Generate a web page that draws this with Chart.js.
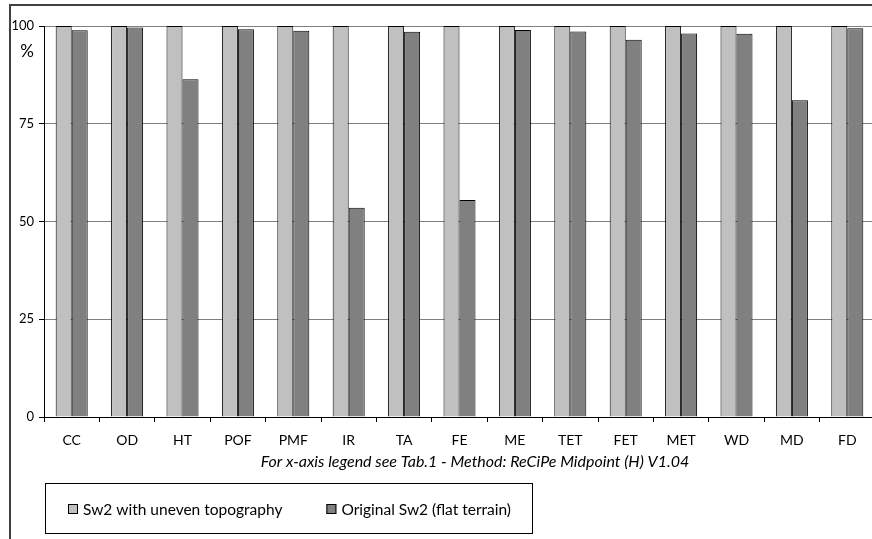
<!DOCTYPE html>
<html>
<head>
<meta charset="utf-8">
<script src="https://cdn.jsdelivr.net/npm/chart.js@4/dist/chart.umd.min.js"></script>
<style>
    html, body { margin: 0; padding: 0; background: #fff; overflow: hidden; width: 872px; height: 539px; }
    #wrap { position: relative; width: 872px; height: 539px; overflow: hidden; }
    #frame {
        position: absolute; left: 9px; top: 4px; width: 900px; height: 600px;
        border-left: 2px solid #404040; border-top: 2px solid #404040;
        pointer-events: none;
    }
    #chart { position: absolute; left: 0; top: 0; }
</style>
</head>
<body>
<div id="wrap">
    <canvas id="chart" width="880" height="539"></canvas>
    <div id="frame"></div>
</div>
<script>
// categories (impact categories, ReCiPe midpoint)
const categories = ["CC", "OD", "HT", "POF", "PMF", "IR", "TA", "FE", "ME", "TET", "FET", "MET", "WD", "MD", "FD"];

// series values in %
const unevenValues = [100, 100, 100, 100, 100, 100, 100, 100, 100, 100, 100, 100, 100, 100, 100];
const flatValues = [98.9, 99.6, 86.4, 99.2, 98.8, 53.5, 98.5, 55.5, 99.0, 98.6, 96.5, 98.1, 98.0, 81.0, 99.4];

const seriesNames = ["Sw2 with uneven topography", "Original Sw2 (flat terrain)"];
const seriesColors = ["#c0c0c0", "#808080"];

// y-axis ticks
const yTicks = [0, 25, 50, 75, 100];

const fontFamily = "Lato, 'Open Sans', sans-serif";
const chartCanvas = document.getElementById("chart");

// draws the "%" unit, the footnote and the boxed legend
const extras = {
    id: "extras",
    afterDraw(chart) {
        const ctx = chart.ctx;
        const area = chart.chartArea;
        const yScale = chart.scales.y;
        ctx.save();

        // "%" under the top tick label
        ctx.fillStyle = "#000";
        ctx.font = "17px " + fontFamily;
        ctx.textAlign = "center";
        ctx.textBaseline = "middle";
        ctx.fillText("%", area.left - 17, yScale.getPixelForValue(100) + 26);

        // footnote
        ctx.font = "italic 16px " + fontFamily;
        ctx.fillText("For x-axis legend see Tab.1 - Method: ReCiPe Midpoint (H) V1.04",
            area.left + 431, area.bottom + 45);

        // legend
        const top = area.bottom + 66;
        const midY = top + 26;
        ctx.font = "15.5px " + fontFamily;
        ctx.textAlign = "left";
        let x = area.left + 24;
        chart.data.datasets.forEach((ds) => {
            ctx.fillStyle = ds.backgroundColor;
            ctx.fillRect(x, midY - 5, 10, 10);
            ctx.strokeStyle = "#000";
            ctx.lineWidth = 1;
            ctx.strokeRect(x + 0.5, midY - 4.5, 9, 9);
            ctx.fillStyle = "#000";
            ctx.fillText(ds.label, x + 15, midY + 1);
            x += 15 + ctx.measureText(ds.label).width + 44;
        });
        const right = x - 44 + 21;
        ctx.strokeStyle = "#000";
        ctx.lineWidth = 1;
        ctx.strokeRect(area.left + 1.5, top + 0.5, right - area.left - 1, 50);

        ctx.restore();
    }
};

new Chart(chartCanvas, {
    type: "bar",
    data: {
        labels: categories,
        datasets: [
            {
                label: seriesNames[0],
                data: unevenValues,
                backgroundColor: seriesColors[0],
                borderColor: "#000",
                borderWidth: 1
            },
            {
                label: seriesNames[1],
                data: flatValues,
                backgroundColor: seriesColors[1],
                borderColor: "#000",
                borderWidth: 1
            }
        ]
    },
    options: {
        responsive: false,
        animation: false,
        devicePixelRatio: 1,
        categoryPercentage: 0.578,
        barPercentage: 1.0,
        layout: { padding: { left: 10, right: 5, top: 26, bottom: 92 } },
        plugins: {
            legend: { display: false },
            tooltip: { enabled: false }
        },
        scales: {
            x: {
                offset: true,
                afterFit: (s) => { s.height = 30; },
                grid: {
                    offset: true,
                    drawOnChartArea: false,
                    tickLength: 5,
                    tickColor: "#000"
                },
                border: { color: "#000", width: 1 },
                ticks: {
                    color: "#000",
                    padding: 10,
                    maxRotation: 0,
                    font: { family: fontFamily, size: 14 }
                }
            },
            y: {
                min: 0,
                max: 100,
                afterFit: (s) => { s.width = 34; },
                afterBuildTicks: (s) => { s.ticks = yTicks.map(v => ({ value: v })); },
                grid: {
                    color: "#808080",
                    lineWidth: 1,
                    tickLength: 5,
                    tickColor: "#000"
                },
                border: { color: "#000", width: 1 },
                ticks: {
                    color: "#000",
                    padding: 5,
                    font: { family: fontFamily, size: 13 }
                }
            }
        }
    },
    plugins: [extras]
});
</script>
</body>
</html>
